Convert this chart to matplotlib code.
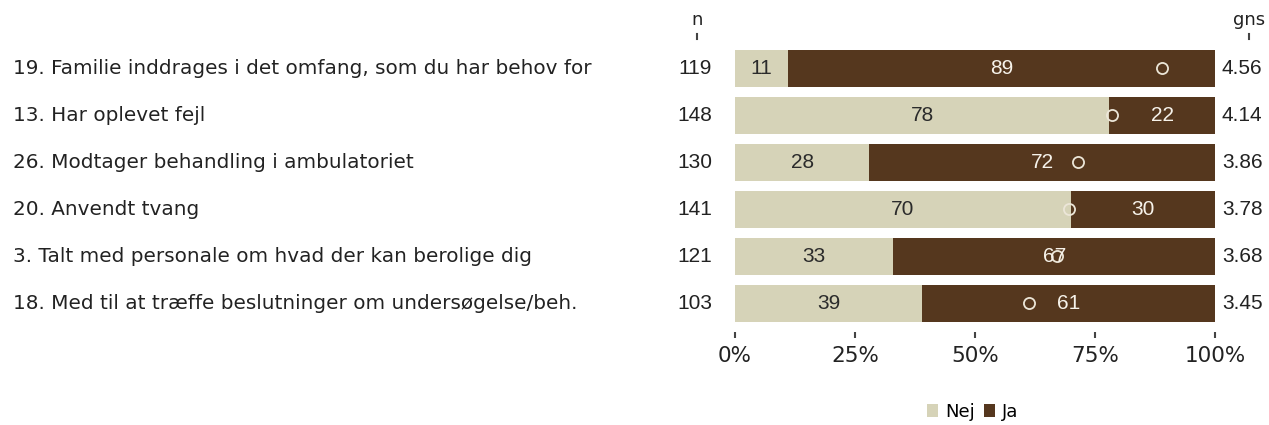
import matplotlib
matplotlib.use("Agg")
import matplotlib.pyplot as plt
import matplotlib.transforms as mtransforms
from matplotlib.patches import Patch

plt.rcParams["font.family"] = ["DejaVu Sans"]

labels = [
    "19. Familie inddrages i det omfang, som du har behov for",
    "13. Har oplevet fejl",
    "26. Modtager behandling i ambulatoriet",
    "20. Anvendt tvang",
    "3. Talt med personale om hvad der kan berolige dig",
    "18. Med til at træffe beslutninger om undersøgelse/beh.",
]
n_values = [119, 148, 130, 141, 121, 103]
nej = [11, 78, 28, 70, 33, 39]
ja = [89, 22, 72, 30, 67, 61]
gns = [4.56, 4.14, 3.86, 3.78, 3.68, 3.45]
circle_pos = [89.0, 78.5, 71.5, 69.5, 67.0, 61.25]
xticks = [0, 25, 50, 75, 100]
xticklabels = ["0%", "25%", "50%", "75%", "100%"]

c_nej = "#d6d3b8"
c_ja = "#55371e"

W, H = 1269, 425
fig = plt.figure(figsize=(W / 100, H / 100), dpi=100)
fig.patch.set_facecolor("white")

# axes placement in pixels
x0, x1 = 735, 1215
ytop, ybot = 45, 332
ax = fig.add_axes([x0 / W, 1 - ybot / H, (x1 - x0) / W, (ybot - ytop) / H])
rows = list(range(len(labels)))
ax.set_xlim(0, 100)
ax.set_ylim(5 + (ybot - 303) / 47, -0.5)

ax.barh(rows, nej, height=0.79, color=c_nej, edgecolor="none")
ax.barh(rows, ja, left=nej, height=0.79, color=c_ja, edgecolor="none")

num_font = "Liberation Sans"
for i in rows:
    ax.text(nej[i] / 2, i, str(nej[i]), ha="center", va="center",
            fontsize=15, color="#2b2b2b", family=num_font)
    ax.text(nej[i] + ja[i] / 2, i, str(ja[i]), ha="center", va="center",
            fontsize=15, color="#f6f2ea", family=num_font)

ax.plot(circle_pos, rows, linestyle="none", marker="o", markersize=8,
        markerfacecolor="none", markeredgecolor="#ece6d8", markeredgewidth=1.3)

for s in ax.spines.values():
    s.set_visible(False)
ax.set_yticks([])
ax.set_xticks(xticks)
ax.set_xticklabels(xticklabels, fontsize=15.5, color="#222222")
ax.tick_params(axis="x", length=4, width=1.5, color="#444444", pad=6, direction="out")

# left labels, n and gns columns
trans = mtransforms.blended_transform_factory(fig.transFigure, ax.transData)
for i, lab in enumerate(labels):
    fig.text(13 / W, i, lab, transform=trans, ha="left", va="center",
             fontsize=14.4, color="#222222")
    fig.text(712 / W, i, str(n_values[i]), transform=trans, ha="right", va="center",
             fontsize=15, family=num_font, color="#222222")
    fig.text(1222 / W, i, f"{gns[i]:.2f}", transform=trans, ha="left", va="center",
             fontsize=15, family=num_font, color="#222222")

# headers
fig.text(697 / W, 1 - 20 / H, "n", ha="center", va="center", fontsize=13,
         color="#222222")
fig.text(1249 / W, 1 - 20 / H, "gns", ha="center", va="center", fontsize=13,
         color="#222222")
for xh in (697, 1249):
    fig.add_artist(plt.Line2D([xh / W, xh / W], [1 - 34 / H, 1 - 39 / H],
                              color="#444444", lw=1.5))

handles = [Patch(facecolor=c_nej, edgecolor="none", label="Nej"),
           Patch(facecolor=c_ja, edgecolor="none", label="Ja")]
fig.legend(handles=handles, loc="center", bbox_to_anchor=(973 / W, 1 - 412 / H),
           ncol=2, frameon=False, handlelength=0.6, handleheight=0.75,
           handletextpad=0.4, columnspacing=0.5,
           prop={"size": 13})

fig.savefig("out.png", dpi=100)
